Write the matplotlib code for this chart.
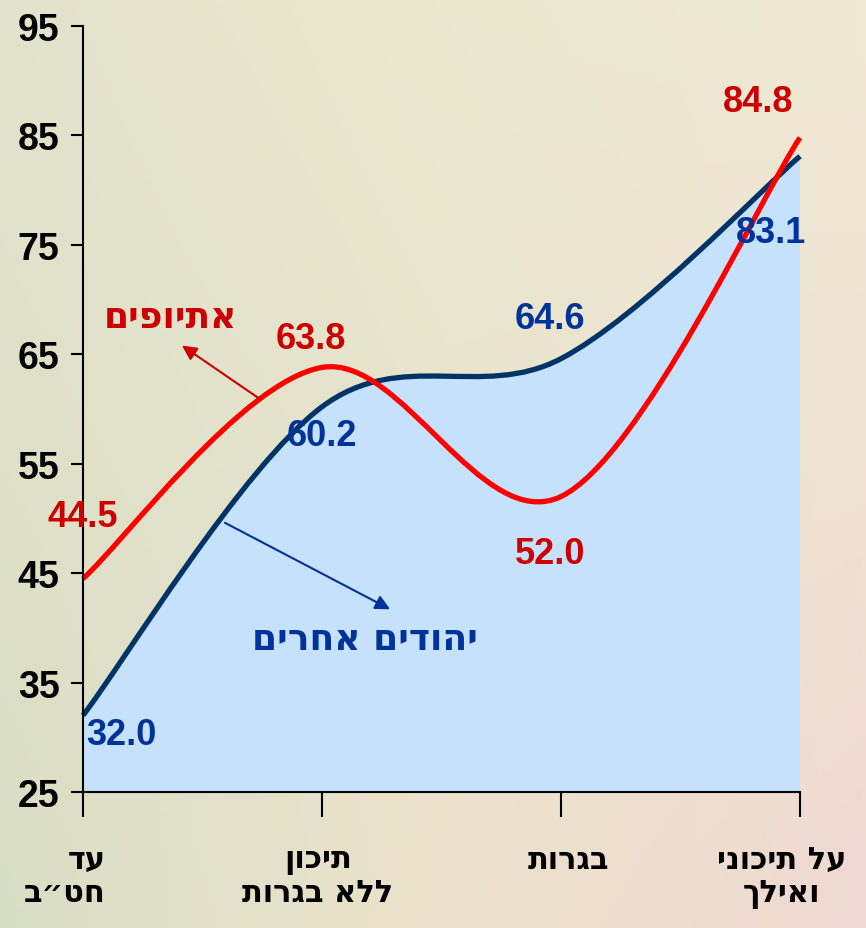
import numpy as np
import matplotlib.pyplot as plt
from matplotlib.path import Path
from matplotlib.patches import PathPatch

# data
categories = ["עד\nחט״ב", "תיכון\nללא בגרות", "בגרות", "על תיכוני\nואילך"]
ethiopians = [44.5, 63.8, 52.0, 84.8]
other_jews = [32.0, 60.2, 64.6, 83.1]
y_ticks = [25, 35, 45, 55, 65, 75, 85, 95]

RED = '#ff0000'
RED_TXT = '#cc0000'
NAVY = '#003366'
NAVY_TXT = '#003399'
FILL = '#c5e1fb'
HEB = ['DejaVu Sans', 'Liberation Sans']

plt.rcParams['font.family'] = ['Liberation Sans', 'DejaVu Sans']
plt.rcParams['font.weight'] = 'bold'


def rtl(s):
    # matplotlib has no bidi support, so flip each line by hand
    return "\n".join(line[::-1] for line in s.split("\n"))


def smooth_path(ax, xs, ys):
    # Catmull-Rom style bezier through the points, computed in screen space
    pts = ax.transData.transform(np.column_stack([xs, ys]))
    n = len(pts)
    verts = [pts[0]]
    codes = [Path.MOVETO]
    for i in range(n - 1):
        p0 = pts[max(i - 1, 0)]
        p1 = pts[i]
        p2 = pts[i + 1]
        p3 = pts[min(i + 2, n - 1)]
        verts += [p1 + (p2 - p0) / 6, p2 - (p3 - p1) / 6, p2]
        codes += [Path.CURVE4] * 3
    verts = ax.transData.inverted().transform(np.array(verts))
    return list(verts), codes


fig = plt.figure(figsize=(8.66, 9.29), dpi=100)

# background gradient
bg = fig.add_axes([0, 0, 1, 1], zorder=-10)
corners = np.array([[[227, 226, 202], [236, 232, 208], [240, 234, 212]],
                    [[222, 224, 200], [232, 228, 205], [240, 226, 212]],
                    [[216, 222, 196], [236, 226, 204], [240, 216, 210]]]) / 255
gy, gx = np.mgrid[0:1:200j, 0:1:200j]
img = np.zeros((200, 200, 3))
for c in range(3):
    cx = gx * 2
    cy = gy * 2
    ix = np.clip(cx.astype(int), 0, 1)
    iy = np.clip(cy.astype(int), 0, 1)
    fx = cx - ix
    fy = cy - iy
    g = corners[:, :, c]
    img[:, :, c] = (g[iy, ix] * (1 - fx) * (1 - fy) + g[iy, ix + 1] * fx * (1 - fy)
                    + g[iy + 1, ix] * (1 - fx) * fy + g[iy + 1, ix + 1] * fx * fy)
bg.imshow(img, aspect='auto', extent=[0, 1, 0, 1], origin='upper')
bg.axis('off')

ax = fig.add_axes([83 / 866, 136 / 929, 717 / 866, 766 / 929])
ax.set_facecolor('none')
x = np.arange(len(categories))
ax.set_xlim(0, 3)
ax.set_ylim(25, 95)

# area under the "other jews" curve
v, c = smooth_path(ax, x, other_jews)
v_fill = v + [(x[-1], 25), (x[0], 25), v[0]]
c_fill = c + [Path.LINETO, Path.LINETO, Path.CLOSEPOLY]
ax.add_patch(PathPatch(Path(v_fill, c_fill), facecolor=FILL, edgecolor='none', zorder=1))
ax.add_patch(PathPatch(Path(v, c), facecolor='none', edgecolor=NAVY, lw=3.8,
                       zorder=3, clip_on=False, capstyle='butt'))

v, c = smooth_path(ax, x, ethiopians)
ax.add_patch(PathPatch(Path(v, c), facecolor='none', edgecolor=RED, lw=3.8,
                       zorder=4, clip_on=False, capstyle='butt'))

# value labels
red_off = [(0, 45), (-8, 21), (-8, -41), (-30, 26)]
navy_off = [(28, -14), (0, -21), (-8, 29), (-21, -55)]
for xi, yi, off in zip(x, ethiopians, red_off):
    ax.annotate(f'{yi:.1f}', (xi, yi), xytext=off, textcoords='offset points',
                ha='center', va='center', fontsize=26, color=RED_TXT,
                fontweight='bold', zorder=6, annotation_clip=False)
for xi, yi, off in zip(x, other_jews, navy_off):
    ax.annotate(f'{yi:.1f}', (xi, yi), xytext=off, textcoords='offset points',
                ha='center', va='center', fontsize=26, color=NAVY_TXT,
                fontweight='bold', zorder=6, annotation_clip=False)

# series names with arrows
ax.text(0.364, 68.4, rtl('אתיופים'), color=RED_TXT, fontsize=26, family=HEB,
        fontweight='bold', ha='center', va='center', zorder=6)
ax.annotate('', xy=(0.414, 65.8), xytext=(0.741, 60.9),
            arrowprops=dict(arrowstyle='-|>', color=RED_TXT, lw=1.5,
                            mutation_scale=22, shrinkA=0, shrinkB=0), zorder=5)
ax.text(1.18, 39.0, rtl('יהודים אחרים'), color=NAVY_TXT, fontsize=26, family=HEB,
        fontweight='bold', ha='center', va='center', zorder=6)
ax.annotate('', xy=(1.285, 41.7), xytext=(0.594, 49.6),
            arrowprops=dict(arrowstyle='-|>', color=NAVY_TXT, lw=1.5,
                            mutation_scale=22, shrinkA=0, shrinkB=0), zorder=5)

# axes styling
ax.set_yticks(y_ticks)
ax.set_yticklabels([str(t) for t in y_ticks], fontsize=27, fontweight='bold')
ax.set_xticks(x)
ax.set_xticklabels([])
label_dx = [-13, -3, 5, -13]
label_align = ['right', 'center', 'center', 'center']
for xi, lab, dx, al in zip(x, categories, label_dx, label_align):
    ax.annotate(rtl(lab), (xi, 0), xycoords=('data', 'axes fraction'),
                xytext=(dx, -38), textcoords='offset points', ha='center',
                va='top', fontsize=22, fontweight='bold', family=HEB,
                linespacing=1.2, multialignment=al, annotation_clip=False)
ax.tick_params(axis='y', direction='out', length=9, width=1.5, pad=8)
ax.tick_params(axis='x', direction='out', length=18, width=1.5)
for s in ['top', 'right']:
    ax.spines[s].set_visible(False)
for s in ['left', 'bottom']:
    ax.spines[s].set_linewidth(1.5)
    ax.spines[s].set_zorder(5)

fig.savefig('out.png', dpi=100)
